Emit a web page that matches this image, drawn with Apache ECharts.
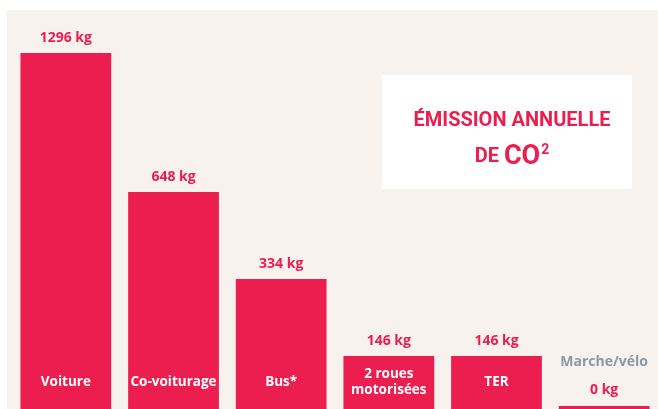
<!DOCTYPE html>
<html>
<head>
	<meta charset="UTF-8">
	<title>Émission annuelle de CO2</title>
	<style type="text/css">
		html, body {
			margin: 0;
			padding: 0;
			background: #ffffff;
		}
		#chart {
			width: 658px;
			height: 409px;
		}
	</style>
</head>
<body>
	<div id="chart"></div>

	<script type="text/javascript" src="https://cdn.jsdelivr.net/npm/echarts@6/dist/echarts.min.js"></script>
	<script type="text/javascript">
		// modes de transport
		var modes = ['Voiture', 'Co-voiturage', 'Bus*', '2 roues\nmotorisées', 'TER', 'Marche/vélo'];
		// émissions affichées (kg de CO2 par an)
		var emissions = [1296, 648, 334, 146, 146, 0];
		// hauteur des barres telle que dessinée (même échelle que Voiture)
		var barHeights = [1296, 790, 473, 193, 193, 0];

		var red = '#ec1e4f';
		var grey = '#8a9aa0';
		var font = '"Open Sans", sans-serif';

		var chart = echarts.init(document.getElementById('chart'));

		var nameData = [];
		var valueData = [];
		for (var i = 0; i < modes.length; i++) {
			var last = i === modes.length - 1;
			nameData.push({
				value: barHeights[i],
				label: { show: !last }
			});
			valueData.push({
				value: barHeights[i],
				label: last ? {
					formatter: '{n|' + modes[i] + '}\n{v|' + emissions[i] + ' kg}'
				} : {
					formatter: emissions[i] + ' kg'
				}
			});
		}

		var option = {
			backgroundColor: '#ffffff',
			animation: false,
			title: {
				text: '{a|ÉMISSION ANNUELLE}\n{b|DE }{c|CO}{d|2}',
				left: 507,
				top: 98,
				textAlign: 'center',
				z: 12,
				textStyle: {
					rich: {
						a: { fontFamily: 'Roboto', fontWeight: 'bold', fontSize: 20, color: red, lineHeight: 36 },
						b: { fontFamily: 'Roboto', fontWeight: 'bold', fontSize: 20, color: red, lineHeight: 36 },
						c: { fontFamily: 'Roboto', fontWeight: 'bold', fontSize: 27, color: red, lineHeight: 36 },
						d: { fontFamily: 'Roboto', fontWeight: 'bold', fontSize: 14, color: red, lineHeight: 36, verticalAlign: 'top', padding: [4, 0, 0, 1] }
					}
				}
			},
			graphic: [
				{
					type: 'rect',
					z: -10,
					silent: true,
					shape: { x: 7, y: 10, width: 660, height: 410 },
					style: { fill: '#f7f2ee' }
				},
				{
					type: 'rect',
					z: 10,
					silent: true,
					shape: { x: 382, y: 75, width: 250, height: 114 },
					style: { fill: '#ffffff' }
				}
			],
			grid: {
				left: 12,
				width: 648,
				top: 53,
				bottom: 0
			},
			xAxis: {
				type: 'category',
				data: modes,
				show: false
			},
			yAxis: {
				type: 'value',
				min: 0,
				max: 1296,
				show: false
			},
			series: [
				{
					name: 'modes',
					type: 'bar',
					data: nameData,
					barCategoryGap: '15.7%',
					barGap: '-100%',
					barMinHeight: 3,
					itemStyle: { color: red },
					label: {
						show: true,
						position: ['50%', '100%'],
						offset: [0, -27],
						align: 'center',
						verticalAlign: 'middle',
						formatter: '{b}',
						color: '#ffffff',
						fontFamily: font,
						fontWeight: 'bold',
						fontSize: 13.5,
						lineHeight: 16
					}
				},
				{
					name: 'emissions',
					type: 'bar',
					data: valueData,
					barCategoryGap: '15.7%',
					barGap: '-100%',
					barMinHeight: 3,
					itemStyle: { color: 'rgba(0,0,0,0)' },
					label: {
						show: true,
						position: 'top',
						distance: 8,
						color: red,
						fontFamily: font,
						fontWeight: 'bold',
						fontSize: 14,
						rich: {
							n: { color: grey, fontFamily: font, fontWeight: 'bold', fontSize: 14, lineHeight: 42 },
							v: { color: red, fontFamily: font, fontWeight: 'bold', fontSize: 14, lineHeight: 15 }
						}
					}
				}
			]
		};

		chart.setOption(option);
	</script>
</body>
</html>
